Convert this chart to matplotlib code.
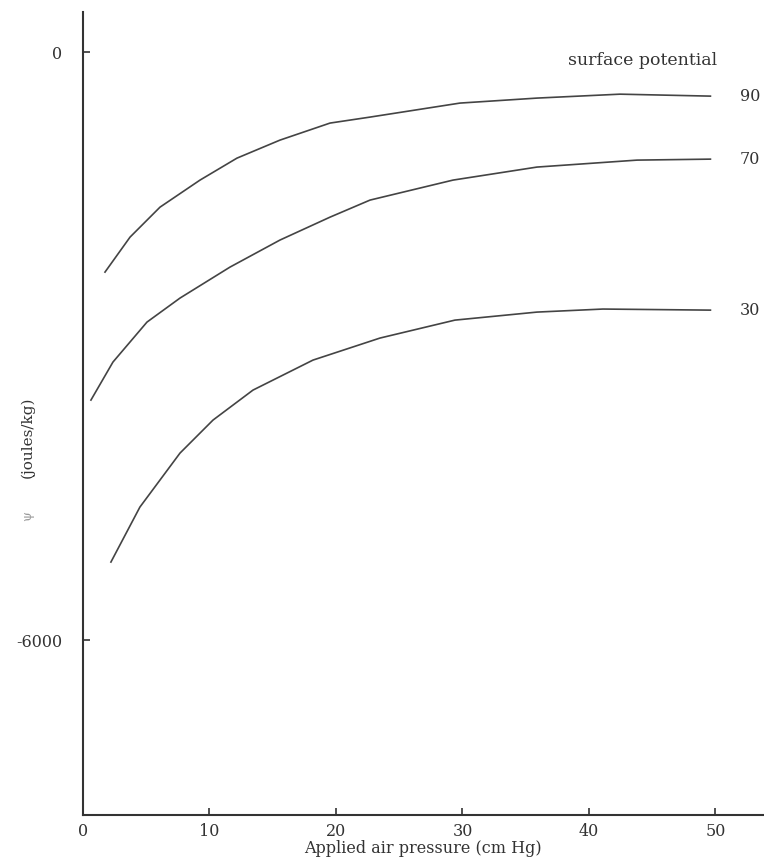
import numpy as np
import matplotlib
matplotlib.use('Agg')
import matplotlib.pyplot as plt

plt.rcParams['font.family'] = ['DejaVu Serif']
plt.rcParams['axes.unicode_minus'] = False

# pression appliquee (cm Hg) et potentiel (joules/kg)
p90 = [1.74, 3.72, 6.09, 9.25, 12.17, 15.57, 19.53, 22.69, 29.8, 35.9, 42.45, 49.6]
psi90 = [-2245, -1888, -1582, -1306, -1082, -898, -724, -663, -520, -469, -429, -449]

p70 = [0.63, 2.37, 5.06, 7.67, 11.62, 15.57, 19.53, 22.69, 29.25, 35.89, 43.8, 49.6]
psi70 = [-3551, -3163, -2755, -2510, -2194, -1918, -1684, -1510, -1306, -1173, -1102, -1092]

p30 = [2.21, 4.5, 7.67, 10.28, 13.44, 18.18, 23.48, 29.4, 35.89, 41.1, 49.6]
psi30 = [-5204, -4643, -4092, -3755, -3449, -3143, -2918, -2735, -2653, -2622, -2633]

curves = [('90', p90, psi90), ('70', p70, psi70), ('30', p30, psi30)]

xticks = [0, 10, 20, 30, 40, 50]
yticks = [0, -6000]

fig = plt.figure(figsize=(7.64, 8.68), dpi=100)
ax = fig.add_axes([0.1086, 0.061, 0.89, 0.925])

for lab, x, y in curves:
    ax.plot(x, y, color='#444444', lw=1.2, solid_joinstyle='round')
    ax.text(x[-1] + 2.3, y[-1], lab, ha='left', va='center', fontsize=11.5,
            color='#333333', clip_on=False)

ax.text(44.2, -82, 'surface potential', ha='center', va='center', fontsize=12.5,
        color='#333333')

ax.set_xlim(0, 53.75)
ax.set_ylim(-7786, 408)
ax.set_xticks(xticks)
ax.set_yticks(yticks)
ax.set_yticklabels(['0', '-6000'])
ax.tick_params(direction='in', length=5, width=1.2, colors='#333333',
               labelsize=11.5)
ax.tick_params(axis='y', pad=15)
ax.tick_params(axis='x', pad=6)

for s in ['top', 'right']:
    ax.spines[s].set_visible(False)
for s in ['left', 'bottom']:
    ax.spines[s].set_color('#333333')
    ax.spines[s].set_linewidth(1.5)

ax.set_xlabel('Applied air pressure (cm Hg)', fontsize=11.5, color='#333333',
              labelpad=0)
fig.text(0.036, 0.496, '(joules/kg)', rotation=90, ha='center', va='center',
         fontsize=11, color='#333333')
fig.text(0.036, 0.405, 'ψ', rotation=90, ha='center', va='center',
         fontsize=9, color='#999999')

fig.savefig('out.png', dpi=100)
